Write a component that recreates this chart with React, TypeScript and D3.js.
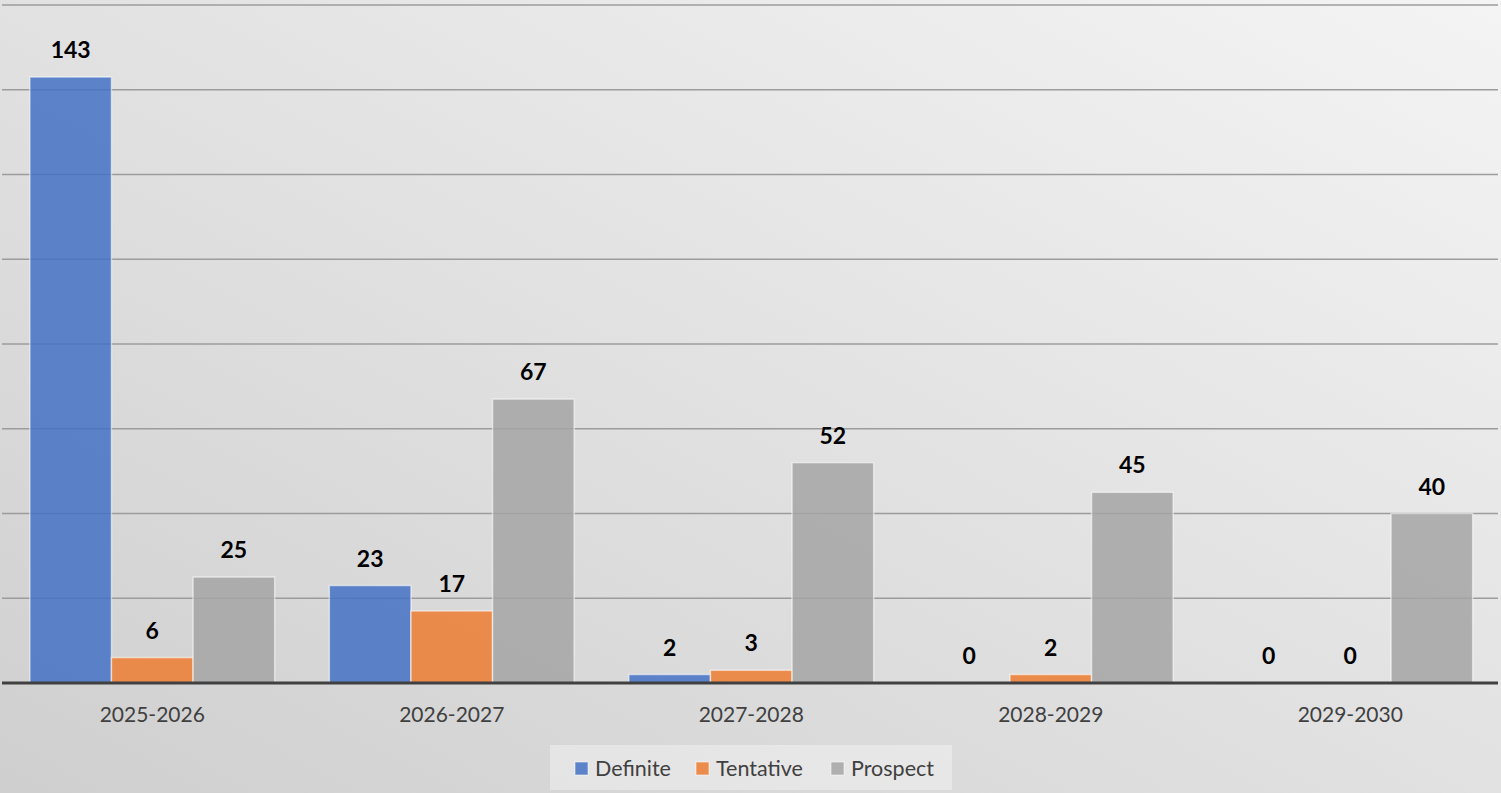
import { useEffect, useRef } from 'react'
import * as d3 from 'd3'

const categories = ['2025-2026', '2026-2027', '2027-2028', '2028-2029', '2029-2030']
const seriesNames = ['Definite', 'Tentative', 'Prospect']
const definite = [143, 23, 2, 0, 0]
const tentative = [6, 17, 3, 2, 0]
const prospect = [25, 67, 52, 45, 40]
const yTicks = [0, 20, 40, 60, 80, 100, 120, 140, 160]
const colors = ['#4472C4', '#ED7D31', '#A5A5A5']

const W = 1501
const H = 793

export default function App() {
  const svgRef = useRef<SVGSVGElement>(null)

  useEffect(() => {
    if (!svgRef.current) return
    const svg = d3.select(svgRef.current)
    svg.selectAll('*').remove()

    const left = 2.5
    const right = 1500
    const top = 5
    const bottom = 683
    const font = 'Lato, "Open Sans", sans-serif'

    const defs = svg.append('defs')
    const grad = defs.append('linearGradient')
      .attr('id', 'bg')
      .attr('x1', '0%').attr('y1', '100%')
      .attr('x2', '100%').attr('y2', '0%')
    grad.append('stop').attr('offset', '0%').attr('stop-color', '#cfcfcf')
    grad.append('stop').attr('offset', '100%').attr('stop-color', '#f4f4f4')

    svg.append('rect').attr('width', W).attr('height', H).attr('fill', 'url(#bg)')

    const x0 = d3.scaleBand().domain(categories).range([left, right])
    const bw = x0.bandwidth() / (3 + 0.67)
    const gap = x0.bandwidth() - bw * 3
    const x1 = d3.scaleBand().domain(seriesNames)
      .range([gap / 2, gap / 2 + bw * 3])
    const y = d3.scaleLinear().domain([0, 160]).range([bottom, top])

    // gridlines
    svg.append('g').selectAll('line')
      .data(yTicks.filter(t => t > 0))
      .join('line')
      .attr('x1', 2).attr('x2', 1498)
      .attr('y1', d => y(d)).attr('y2', d => y(d))
      .attr('stroke', '#9c9c9c')
      .attr('stroke-width', 1.5)

    const series = [definite, tentative, prospect]
    series.forEach((vals, si) => {
      const g = svg.append('g')
      g.selectAll('rect')
        .data(vals)
        .join('rect')
        .attr('x', (_, i) => (x0(categories[i]) ?? 0) + (x1(seriesNames[si]) ?? 0))
        .attr('y', d => y(d))
        .attr('width', bw)
        .attr('height', d => bottom - y(d))
        .attr('fill', colors[si])
        .attr('fill-opacity', 0.85)
        .attr('stroke', d => d > 0 ? 'rgba(255,255,255,0.55)' : 'none')
        .attr('stroke-width', 1.5)

      g.selectAll('text')
        .data(vals)
        .join('text')
        .attr('x', (_, i) => (x0(categories[i]) ?? 0) + (x1(seriesNames[si]) ?? 0) + bw / 2)
        .attr('y', d => y(d) - 19)
        .attr('text-anchor', 'middle')
        .style('font-family', font)
        .style('font-weight', 'bold')
        .style('font-size', '23px')
        .attr('fill', '#000')
        .text(d => d)
    })

    // axis line
    svg.append('line')
      .attr('x1', 2).attr('x2', 1498)
      .attr('y1', bottom).attr('y2', bottom)
      .attr('stroke', '#404040')
      .attr('stroke-width', 3)

    svg.append('g').selectAll('text')
      .data(categories)
      .join('text')
      .attr('x', d => (x0(d) ?? 0) + x0.bandwidth() / 2)
      .attr('y', 722)
      .attr('text-anchor', 'middle')
      .style('font-family', font)
      .style('font-size', '21px')
      .attr('fill', '#404040')
      .text(d => d)

    // legend
    const legend = svg.append('g')
    legend.append('rect')
      .attr('x', 550).attr('y', 745)
      .attr('width', 402).attr('height', 45)
      .attr('fill', '#ffffff').attr('fill-opacity', 0.35)
    const legendX = [575, 696, 831]
    seriesNames.forEach((name, i) => {
      legend.append('rect')
        .attr('x', legendX[i]).attr('y', 762)
        .attr('width', 13).attr('height', 13)
        .attr('fill', colors[i]).attr('fill-opacity', 0.85)
        .attr('stroke', 'rgba(255,255,255,0.55)')
      legend.append('text')
        .attr('x', legendX[i] + 20).attr('y', 776)
        .style('font-family', font)
        .style('font-size', '21.5px')
        .attr('fill', '#404040')
        .text(name)
    })
  }, [])

  return (
    <div style={{ position: 'fixed', left: 0, top: 0 }}>
      <svg ref={svgRef} width={W} height={H} style={{ display: 'block' }} />
    </div>
  )
}
